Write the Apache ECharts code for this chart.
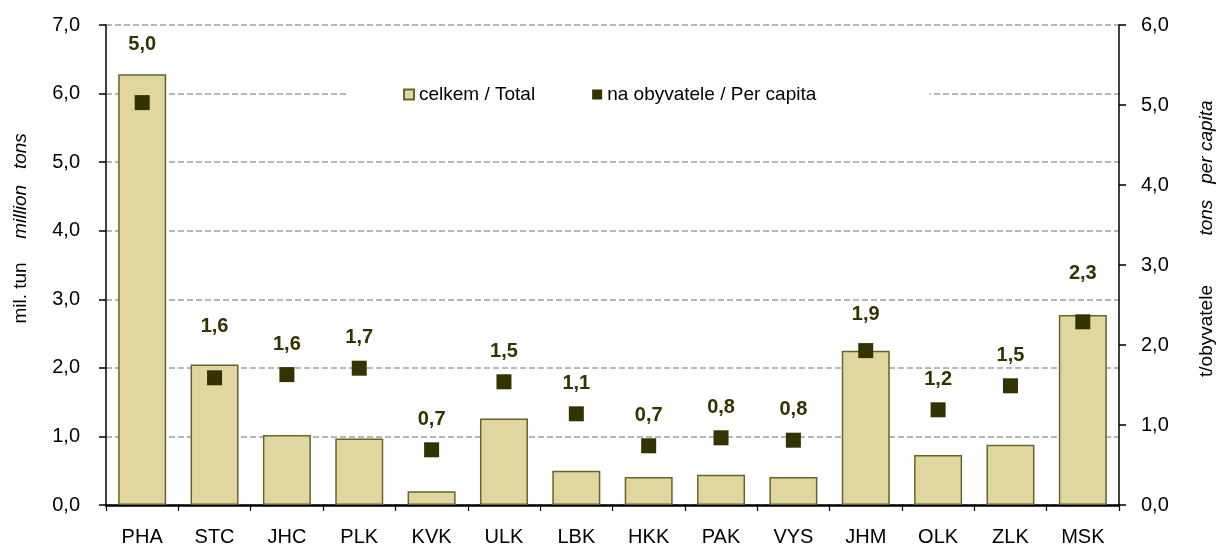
<!DOCTYPE html>
<html>
<head>
<meta charset="utf-8">
<script src="https://cdn.jsdelivr.net/npm/echarts@6/dist/echarts.min.js"></script>
<style>
  html, body { margin: 0; padding: 0; background: #fff; }
  #chart { width: 1217px; height: 550px; }
</style>
</head>
<body>
<div id="chart"></div>
<script>
// kraje
const regions = ['PHA', 'STC', 'JHC', 'PLK', 'KVK', 'ULK', 'LBK', 'HKK', 'PAK', 'VYS', 'JHM', 'OLK', 'ZLK', 'MSK'];
// celkem / Total (mil. tun)
const totalValues = [6.28, 2.05, 1.02, 0.97, 0.20, 1.26, 0.50, 0.41, 0.44, 0.41, 2.25, 0.73, 0.88, 2.77];
// na obyvatele / Per capita (t/obyvatele)
const perCapitaValues = [5.03, 1.59, 1.63, 1.71, 0.69, 1.54, 1.14, 0.74, 0.84, 0.81, 1.93, 1.19, 1.49, 2.29];
const leftTicks = [0, 1, 2, 3, 4, 5, 6, 7];
const rightTicks = [0, 1, 2, 3, 4, 5, 6];

// labels pushed up where the bar is in the way
const labelLift = [28, 21, 0, 0, 0, 0, 0, 0, 0, 0, 6, 0, 0, 18];

const fmt = v => v.toFixed(1).replace('.', ',');
const FONT = '"Liberation Sans", Arial, sans-serif';

var chartDom = document.getElementById('chart');
var myChart = echarts.init(chartDom);
var option;

option = {
    animation: false,
    textStyle: { fontFamily: FONT },
    grid: { left: 106, right: 98, top: 25, bottom: 45 },
    legend: {
        left: 348,
        top: 80,
        backgroundColor: '#fff',
        padding: [5, 113, 5, 55],
        itemWidth: 10,
        itemHeight: 10,
        itemGap: 57,
        icon: 'rect',
        textStyle: { fontSize: 19, color: '#000', fontFamily: FONT },
        data: ['celkem / Total', 'na obyvatele / Per capita']
    },
    xAxis: {
        type: 'category',
        data: regions,
        axisLine: { lineStyle: { color: '#000', width: 2.5 } },
        axisTick: { show: true, length: 6, lineStyle: { color: '#000', width: 1.2 } },
        axisLabel: { color: '#000', fontSize: 20, margin: 22 }
    },
    yAxis: [
        {
            type: 'value',
            min: leftTicks[0],
            max: leftTicks[leftTicks.length - 1],
            interval: 1,
            axisLine: { show: true, lineStyle: { color: '#000', width: 1.5 } },
            axisTick: { show: true, length: 7, lineStyle: { color: '#000', width: 1.5 } },
            axisLabel: { color: '#000', fontSize: 20, margin: 26, formatter: fmt },
            splitLine: { show: true, lineStyle: { color: '#a0a0a0', width: 1.5, type: [6, 3] } }
        },
        {
            type: 'value',
            min: rightTicks[0],
            max: rightTicks[rightTicks.length - 1],
            interval: 1,
            position: 'right',
            axisLine: { show: true, lineStyle: { color: '#000', width: 1.5 } },
            axisTick: { show: true, length: 7, lineStyle: { color: '#000', width: 1.5 } },
            axisLabel: { color: '#000', fontSize: 20, margin: 22, formatter: fmt },
            splitLine: { show: false }
        }
    ],
    graphic: [
        { type: 'text', x: 21, y: 186, rotation: Math.PI / 2, style: { text: 'million   tons', font: 'italic 19px ' + FONT, fill: '#000', align: 'center', verticalAlign: 'middle' } },
        { type: 'text', x: 21, y: 293, rotation: Math.PI / 2, style: { text: 'mil. tun', font: '19px ' + FONT, fill: '#000', align: 'center', verticalAlign: 'middle' } },
        { type: 'text', x: 1207, y: 168, rotation: Math.PI / 2, style: { text: 'tons   per capita', font: 'italic 19px ' + FONT, fill: '#000', align: 'center', verticalAlign: 'middle' } },
        { type: 'text', x: 1207, y: 331, rotation: Math.PI / 2, style: { text: 't/obyvatele', font: '19px ' + FONT, fill: '#000', align: 'center', verticalAlign: 'middle' } }
    ],
    series: [
        {
            name: 'celkem / Total',
            type: 'bar',
            yAxisIndex: 0,
            barWidth: 48,
            itemStyle: { color: '#e0d6a0', borderColor: '#67632f', borderWidth: 1.5 },
            data: totalValues
        },
        {
            name: 'na obyvatele / Per capita',
            type: 'scatter',
            yAxisIndex: 1,
            symbol: 'rect',
            symbolSize: 15,
            itemStyle: { color: '#333300', opacity: 1 },
            z: 5,
            label: {
                show: true,
                position: 'top',
                distance: 13,
                color: '#333300',
                fontWeight: 'bold',
                fontSize: 20,
                formatter: p => fmt(p.value)
            },
            data: perCapitaValues.map((v, i) => ({
                value: v,
                label: { offset: [0, -labelLift[i]] }
            }))
        }
    ]
};

option && myChart.setOption(option);
</script>
</body>
</html>
